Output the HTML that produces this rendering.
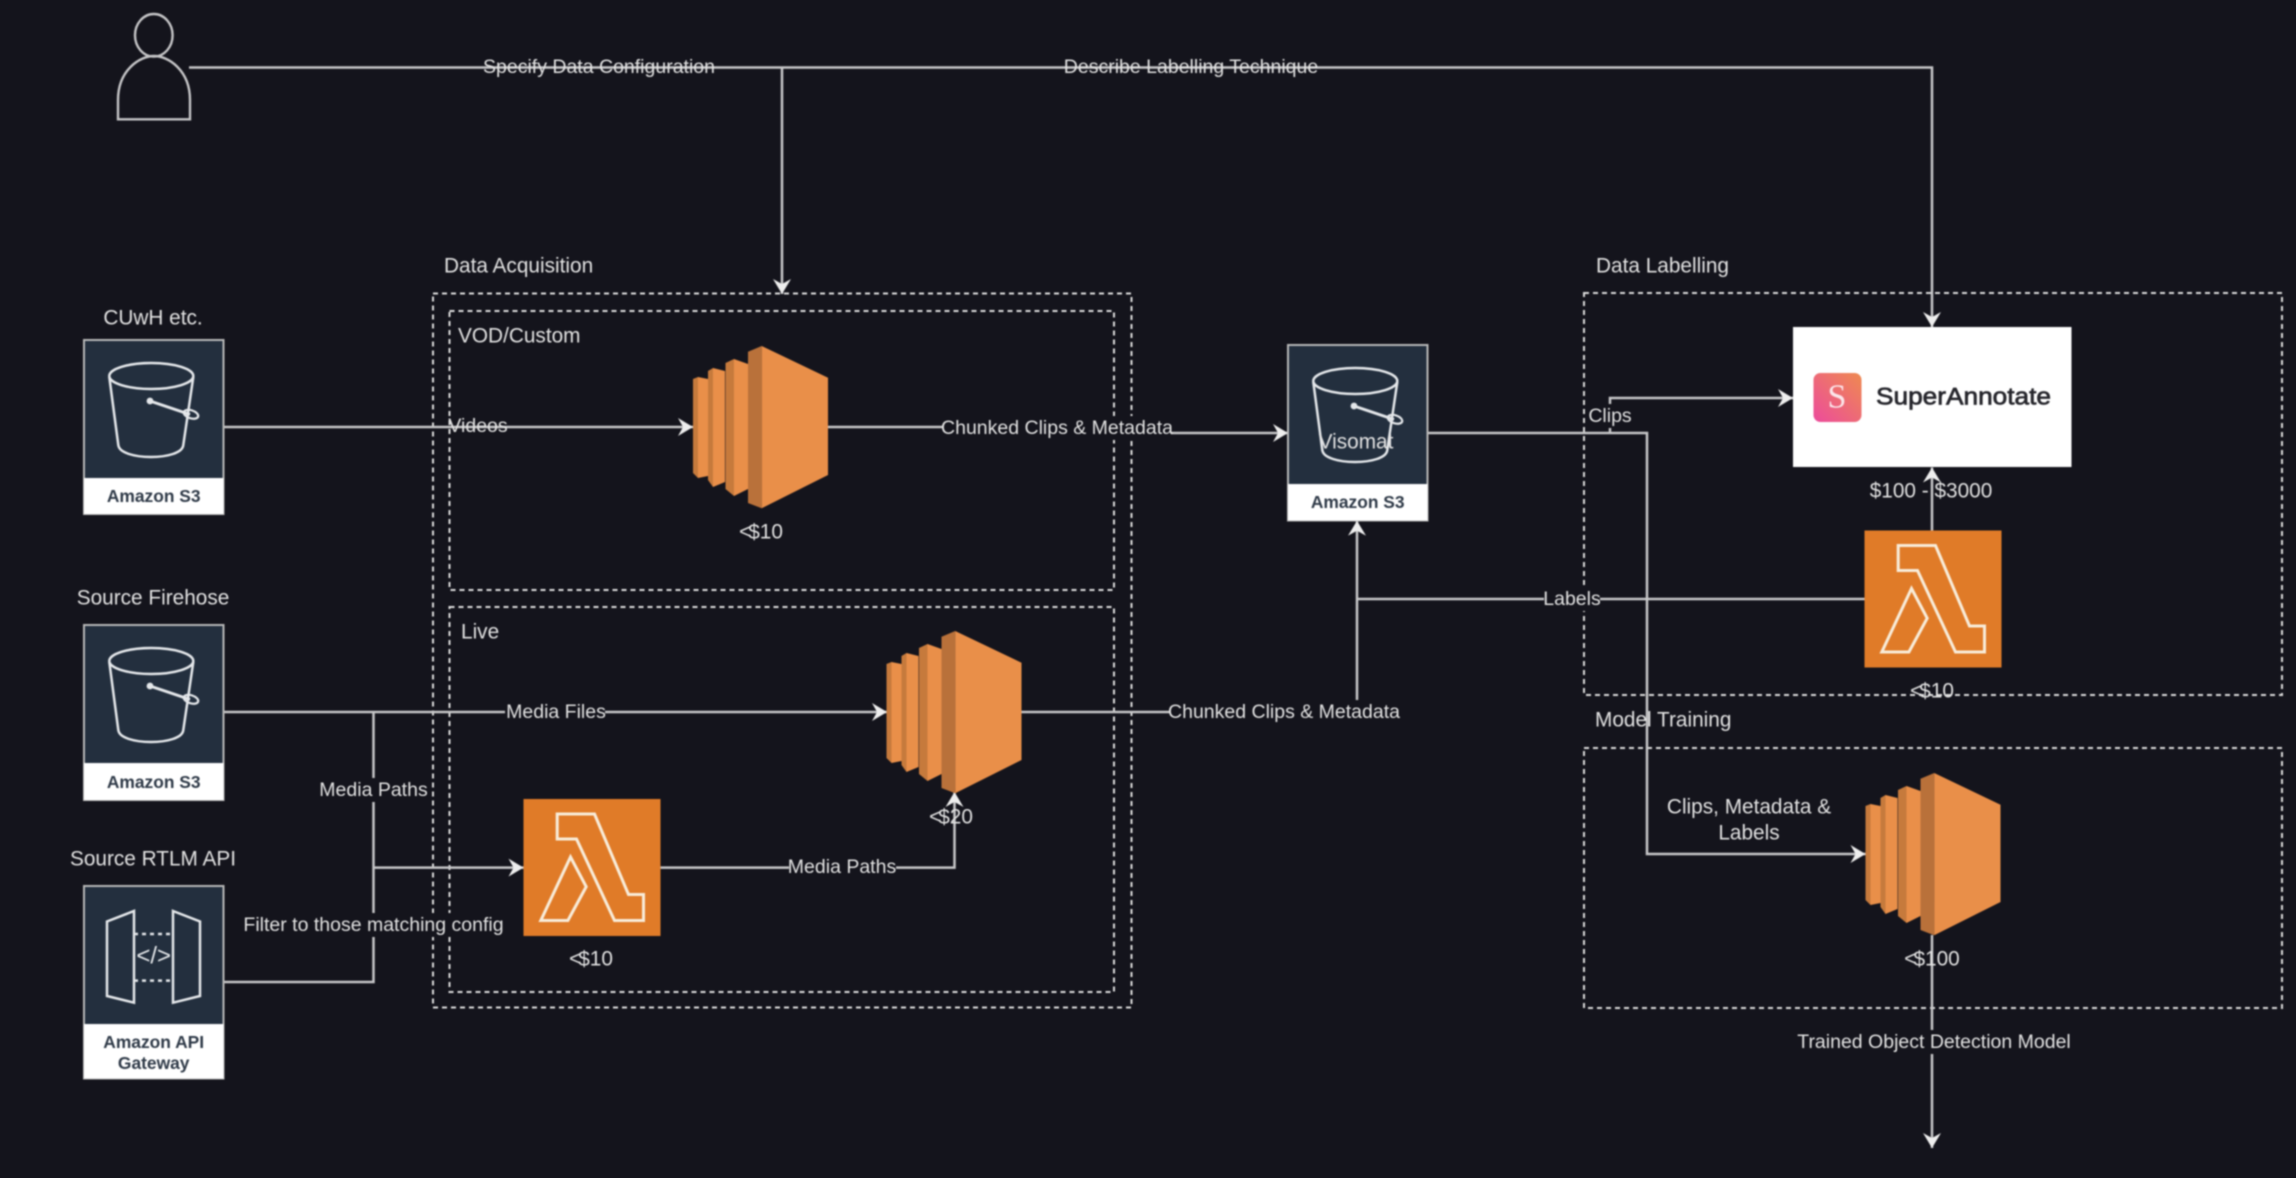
<!DOCTYPE html>
<html><head><meta charset="utf-8"><title>Pipeline diagram</title>
<style>
html,body{margin:0;padding:0;background:#14141c;width:2296px;height:1178px;overflow:hidden}
svg{display:block;filter:blur(.8px)}
text{font-family:"Liberation Sans",sans-serif;fill:#e2e2e2;dominant-baseline:central}
.t{font-size:20.8px}
.e{font-size:19.5px;text-anchor:middle}
.m{text-anchor:middle}
.b{font-weight:bold;font-size:17.4px;fill:#2f3a48;text-anchor:middle}
.l{fill:none;stroke:#c6c6c8;stroke-width:2.5}
.a{marker-end:url(#ar)}
.d{fill:none;stroke:#dcdcdc;stroke-width:2;stroke-dasharray:5 4}
.bg{fill:#14141c}
</style></head><body>
<svg width="2296" height="1178" viewBox="0 0 2296 1178" xmlns="http://www.w3.org/2000/svg">
<defs>
<marker id="ar" markerUnits="userSpaceOnUse" markerWidth="16" markerHeight="18" refX="15" refY="9" orient="auto" viewBox="0 0 16 18">
<path d="M15 9 L0 0 L5 9 L0 18 Z" fill="#eeeeee"/></marker>
<g id="bucket" fill="none" stroke="#e4e7ea" stroke-width="2.5">
<ellipse cx="67.3" cy="36" rx="42" ry="13"/>
<path d="M25.3 37 L34.3 105 C36 121 98 121 99.3 105 L109.3 37"/>
<path d="M66 61 L106 74.5" stroke-width="3"/>
<ellipse cx="107" cy="74.3" rx="7.5" ry="4" transform="rotate(18 107 74.3)" stroke-width="2.2"/>
<circle cx="66" cy="61" r="3.4" fill="#e4e7ea" stroke="none"/>
</g>
<g id="ec2">
<polygon points="0,33 5,31 5,132 0,127" fill="#c67a3c"/>
<polygon points="5,31 15,33 15,130 5,132" fill="#e98f49"/>
<polygon points="15,25 20,22 20,141 15,134" fill="#c67a3c"/>
<polygon points="20,22 32,25 32,136 20,141" fill="#e98f49"/>
<polygon points="32.5,17 41,13 41,150 32.5,143" fill="#c67a3c"/>
<polygon points="41,13 55,18 55,143 41,150" fill="#e98f49"/>
<polygon points="55,5.7 68.7,0 68.7,162.3 55,157" fill="#b9713a"/>
<polygon points="68.7,0 135,31.7 135,129 68.7,162.3" fill="#e98f49"/>
</g>
<g id="lambda">
<rect width="137" height="137" fill="#e07b28"/>
<polygon points="33.7,15 71,15 105,95.5 120,95.5 120,121.5 91,121.5 53,40 33.7,40" fill="none" stroke="#f8ecd9" stroke-width="3"/>
<polygon points="47,58 62.7,87.7 44.4,121.5 17.3,121.5" fill="none" stroke="#f8ecd9" stroke-width="3"/>
</g>
<linearGradient id="sa" x1="1" y1="0" x2="0" y2="1">
<stop offset="0" stop-color="#ee8a50"/><stop offset="1" stop-color="#ec4b9c"/></linearGradient>
</defs>
<rect width="2296" height="1178" fill="#14141c"/>

<!-- dashed containers -->
<rect class="d" x="433" y="293.5" width="698.5" height="714"/>
<rect class="d" x="449.5" y="311" width="664.5" height="279"/>
<rect class="d" x="449.5" y="607" width="664.5" height="385"/>
<rect class="d" x="1584" y="293" width="698" height="402"/>
<rect class="d" x="1584" y="748" width="698" height="260"/>

<!-- person -->
<g fill="none" stroke="#c4c4c6" stroke-width="2.4">
<ellipse cx="153.8" cy="35.3" rx="18.8" ry="21.3"/>
<path d="M118 119.3 L118 100 C118 70 140 56 154 56 C168 56 190 70 190 100 L190 119.3 Z"/>
</g>

<!-- connectors -->
<path class="l a" d="M189 67.5 H1932 V327"/>
<path class="l a" d="M782 67.5 V294"/>
<path class="l a" d="M223.5 427 H693"/>
<path class="l" d="M828 427 H945"/>
<path class="l a" d="M1170 433 H1288"/>
<path class="l a" d="M223.5 712 H887"/>
<path class="l" d="M373.5 712 V982 H223.5"/>
<path class="l a" d="M373.5 867.6 H523.5"/>
<path class="l a" d="M660 867.6 H954.5 V792"/>
<path class="l" d="M1019.5 712 H1172"/>
<path class="l a" d="M1357 700 V520.7"/>
<path class="l" d="M1357 599 H1864.5"/>
<path class="l a" d="M1427.5 433 H1647 V854 H1865.5"/>
<path class="l a" d="M1610 433 V398 H1793"/>
<path class="l a" d="M1932 531 V467.5"/>
<path class="l a" d="M1932 935 V1148"/>

<!-- S3 CUwH -->
<g transform="translate(84,340)">
<rect width="139.5" height="174" fill="#232f3e" stroke="#b8b8b8" stroke-width="2"/>
<rect y="138" width="139.5" height="36" fill="#fff"/>
<use href="#bucket"/>
<text class="b" x="69.7" y="156">Amazon S3</text>
</g>
<!-- S3 firehose -->
<g transform="translate(84,625)">
<rect width="139.5" height="175" fill="#232f3e" stroke="#b8b8b8" stroke-width="2"/>
<rect y="138" width="139.5" height="37" fill="#fff"/>
<use href="#bucket"/>
<text class="b" x="69.7" y="157">Amazon S3</text>
</g>
<!-- API gateway -->
<g transform="translate(84,886)">
<rect width="139.5" height="192.5" fill="#232f3e" stroke="#b8b8b8" stroke-width="2"/>
<rect y="138" width="139.5" height="54.5" fill="#fff"/>
<g fill="none" stroke="#e4e7ea" stroke-width="2.5">
<polygon points="50,25 50,116.7 23,110 23,35.5"/>
<polygon points="89,25 116,35.5 116,110 89,116.7"/>
<path d="M50 48 H89 M50 94.6 H89" stroke-dasharray="4 4"/>
</g>
<text x="69.7" y="70" style="font-size:24px;fill:#e4e7ea;text-anchor:middle">&lt;/&gt;</text>
<text class="b" x="69.7" y="156">Amazon API</text>
<text class="b" x="69.7" y="177">Gateway</text>
</g>
<!-- S3 visomat -->
<g transform="translate(1288,345)">
<rect width="139.5" height="175.5" fill="#232f3e" stroke="#b8b8b8" stroke-width="2"/>
<rect y="139" width="139.5" height="36.5" fill="#fff"/>
<use href="#bucket"/>
<text class="b" x="69.7" y="157">Amazon S3</text>
</g>
<text class="t m" x="1356" y="442">Visomat</text>

<!-- compute -->
<use href="#ec2" x="693" y="346"/>
<use href="#ec2" x="886.5" y="631"/>
<use href="#ec2" x="1865.5" y="773"/>
<use href="#lambda" x="523.5" y="799"/>
<use href="#lambda" x="1864.5" y="530.5"/>

<!-- SuperAnnotate -->
<rect x="1793" y="327" width="278.5" height="140" fill="#fff"/>
<rect x="1813.5" y="373" width="48" height="49" rx="7" fill="url(#sa)"/>
<text x="1837" y="397" style="font-family:'Liberation Serif',serif;font-size:34px;fill:#fbe6ea;text-anchor:middle">S</text>
<text x="1876" y="397" textLength="175" lengthAdjust="spacingAndGlyphs" style="font-size:24.5px;fill:#26262c;stroke:#26262c;stroke-width:.7px">SuperAnnotate</text>

<!-- node labels -->
<text class="t m" x="153" y="318">CUwH etc.</text>
<text class="t m" x="153" y="598">Source Firehose</text>
<text class="t m" x="153" y="859">Source RTLM API</text>
<text class="t" x="444" y="266">Data Acquisition</text>
<text class="t" x="458" y="336">VOD/Custom</text>
<text class="t" x="461" y="632">Live</text>
<text class="t" x="1596" y="266">Data Labelling</text>
<text class="t" x="1595" y="720">Model Training</text>
<text class="t m" x="761" y="532">&lt;<tspan dx="-3">$</tspan>10</text>
<text class="t m" x="591" y="959">&lt;<tspan dx="-3">$</tspan>10</text>
<text class="t m" x="951" y="817">&lt;<tspan dx="-3">$</tspan>20</text>
<text class="t m" x="1932" y="691">&lt;<tspan dx="-3">$</tspan>10</text>
<text class="t m" x="1932" y="959">&lt;<tspan dx="-3">$</tspan>100</text>
<text class="t m" x="1931" y="491">$100 - $3000</text>

<!-- edge labels -->
<text class="e" x="599" y="67">Specify Data Configuration</text>
<text class="e" x="1191" y="67">Describe Labelling Technique</text>
<text class="e" x="478" y="426">Videos</text>
<rect class="bg" x="943" y="416" width="228" height="24"/>
<text class="e" x="1057" y="428">Chunked Clips &amp; Metadata</text>
<rect class="bg" x="1170" y="700" width="228" height="24"/>
<text class="e" x="1284" y="712">Chunked Clips &amp; Metadata</text>
<rect class="bg" x="505" y="700" width="100" height="24"/>
<text class="e" x="556" y="712">Media Files</text>
<rect class="bg" x="320" y="778" width="107" height="24"/>
<text class="e" x="373.5" y="790">Media Paths</text>
<rect class="bg" x="246" y="913" width="255" height="24"/>
<text class="e" x="373.5" y="925">Filter to those matching config</text>
<rect class="bg" x="789" y="856" width="107" height="24"/>
<text class="e" x="842" y="867">Media Paths</text>
<rect class="bg" x="1544" y="587" width="56" height="24"/>
<text class="e" x="1572" y="599">Labels</text>
<rect class="bg" x="1588" y="404" width="44" height="24"/>
<text class="e" x="1610" y="416">Clips</text>
<text class="t m" x="1749" y="807">Clips, Metadata &amp;</text>
<text class="t m" x="1749" y="833">Labels</text>
<rect class="bg" x="1800" y="1030" width="269" height="24"/>
<text class="e" x="1934" y="1042">Trained Object Detection Model</text>
</svg>
</body></html>
